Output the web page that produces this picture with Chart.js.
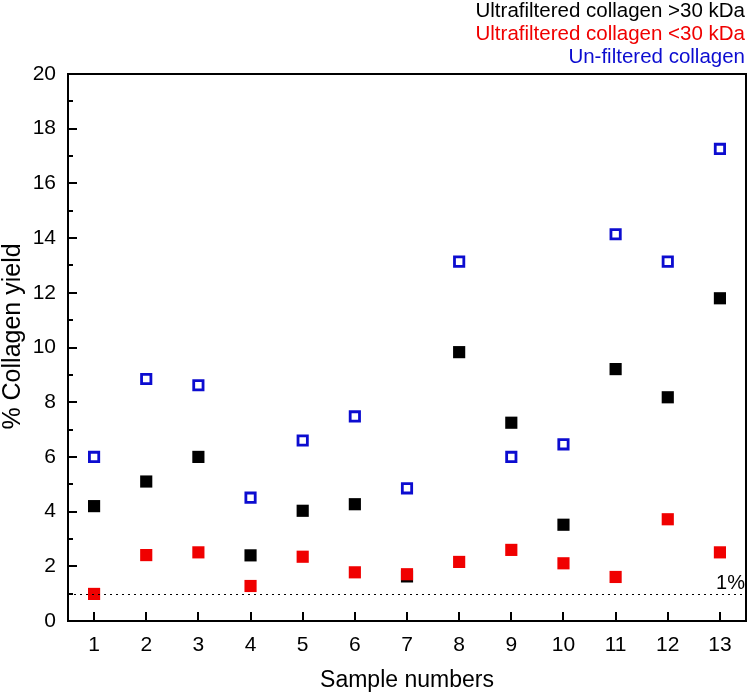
<!DOCTYPE html>
<html>
<head>
<meta charset="utf-8">
<script src="https://cdn.jsdelivr.net/npm/chart.js@4"></script>
<style>
  html, body { margin: 0; padding: 0; background: #fff; }
  #wrap { width: 750px; height: 696px; }
</style>
</head>
<body>
<div id="wrap"><canvas id="chart" width="750" height="696"></canvas></div>
<script>
// Sample numbers on the x axis
const samples = [1, 2, 3, 4, 5, 6, 7, 8, 9, 10, 11, 12, 13];

// % collagen yield per sample
const above30kDa = [4.2, 5.1, 6.0, 2.4, 4.03, 4.27, 1.63, 9.83, 7.25, 3.52, 9.21, 8.18, 11.8];
const below30kDa = [0.99, 2.41, 2.51, 1.28, 2.35, 1.78, 1.71, 2.16, 2.6, 2.11, 1.61, 3.72, 2.51];
const unfiltered = [6.0, 8.85, 8.62, 4.51, 6.6, 7.48, 4.85, 13.14, 6.0, 6.46, 14.14, 13.14, 17.26];

const seriesLabels = ['Ultrafiltered collagen >30 kDa', 'Ultrafiltered collagen <30 kDa', 'Un-filtered collagen'];
const yTicks = [0, 2, 4, 6, 8, 10, 12, 14, 16, 18, 20];
const yTitle = '% Collagen yield';
const thresholdValue = 1;
const thresholdLabel = '1%';

const FONT = '"Liberation Sans", Arial, sans-serif';
const BLUE = '#0c0cd0';
const RED = '#f00000';

function toPoints(values) {
  return samples.map((s, i) => ({ x: s, y: values[i] }));
}

/**
 * Inward ticks, frame, 1% reference line, y title and the coloured text legend
 */
const decorPlugin = {
  id: 'decor',
  afterDatasetsDraw(chart) {
    const { ctx, chartArea: area, scales: { x, y } } = chart;
    ctx.save();
    ctx.strokeStyle = '#000';
    ctx.lineWidth = 2;

    // frame top + right
    ctx.beginPath();
    ctx.moveTo(area.left, area.top);
    ctx.lineTo(area.right, area.top);
    ctx.lineTo(area.right, area.bottom);
    ctx.stroke();

    // x ticks (inward)
    ctx.beginPath();
    x.ticks.forEach(t => {
      const px = Math.round(x.getPixelForValue(t.value));
      ctx.moveTo(px, area.bottom);
      ctx.lineTo(px, area.bottom - 9);
    });
    ctx.stroke();

    // y ticks, major + minor (inward)
    ctx.beginPath();
    for (let v = y.min; v <= y.max; v++) {
      const py = Math.round(y.getPixelForValue(v));
      const len = v % 2 === 0 ? 9 : 5;
      ctx.moveTo(area.left, py);
      ctx.lineTo(area.left + len, py);
    }
    ctx.stroke();

    // dotted threshold line
    const ty = Math.round(y.getPixelForValue(thresholdValue)) + 0.5;
    ctx.lineWidth = 1.2;
    ctx.setLineDash([2, 4]);
    ctx.beginPath();
    ctx.moveTo(area.left, ty);
    ctx.lineTo(area.right, ty);
    ctx.stroke();
    ctx.setLineDash([]);

    ctx.fillStyle = '#000';
    ctx.font = '20px ' + FONT;
    ctx.textAlign = 'right';
    ctx.textBaseline = 'alphabetic';
    ctx.fillText(thresholdLabel, area.right - 1, ty - 6);

    // y axis title, sits a bit above the plot centre like the original
    ctx.save();
    ctx.translate(20, (area.top + area.bottom) / 2 - 11);
    ctx.rotate(-Math.PI / 2);
    ctx.textAlign = 'center';
    ctx.font = '25px ' + FONT;
    ctx.fillText(yTitle, 0, 0);
    ctx.restore();

    // legend text
    ctx.font = '20.5px ' + FONT;
    const legendColors = ['#000', RED, BLUE];
    seriesLabels.forEach((lab, i) => {
      ctx.fillStyle = legendColors[i];
      ctx.fillText(lab, 745, 17 + i * 23);
    });
    ctx.restore();
  }
};

new Chart(document.getElementById('chart'), {
  type: 'scatter',
  data: {
    datasets: [{
      label: seriesLabels[0],
      data: toPoints(above30kDa),
      pointStyle: 'rect',
      pointRadius: 8.6,
      pointHoverRadius: 8.6,
      backgroundColor: '#000',
      borderWidth: 0,
      order: 1
    }, {
      label: seriesLabels[1],
      data: toPoints(below30kDa),
      pointStyle: 'rect',
      pointRadius: 8.6,
      pointHoverRadius: 8.6,
      backgroundColor: RED,
      borderWidth: 0,
      order: 0
    }, {
      label: seriesLabels[2],
      data: toPoints(unfiltered),
      pointStyle: 'rect',
      pointRadius: 6.6,
      pointHoverRadius: 6.6,
      backgroundColor: '#fff',
      borderColor: BLUE,
      borderWidth: 2.8,
      order: 2
    }]
  },
  options: {
    responsive: false,
    animation: false,
    layout: { autoPadding: false, padding: { top: 74, right: 4, left: 0, bottom: 0 } },
    plugins: {
      legend: { display: false },
      tooltip: { enabled: false }
    },
    scales: {
      x: {
        type: 'linear',
        min: 0.5,
        max: 13.5,
        afterBuildTicks: axis => { axis.ticks = samples.map(v => ({ value: v })); },
        grid: { display: false, drawTicks: false },
        border: { display: true, color: '#000', width: 2 },
        ticks: { color: '#000', font: { family: FONT, size: 21 }, padding: 12, maxRotation: 0 },
        title: { display: true, text: 'Sample numbers', color: '#000', font: { family: FONT, size: 23 }, padding: { top: 0, bottom: 2 } },
        afterFit: axis => { axis.height = 75; axis.paddingLeft = 0; axis.paddingRight = 0; }
      },
      y: {
        min: 0,
        max: 20,
        afterBuildTicks: axis => { axis.ticks = yTicks.map(v => ({ value: v })); },
        grid: { display: false, drawTicks: false },
        border: { display: true, color: '#000', width: 2 },
        ticks: { color: '#000', font: { family: FONT, size: 21 }, padding: 12 },
        title: { display: false },
        afterFit: axis => { axis.width = 68; axis.paddingTop = 0; axis.paddingBottom = 0; }
      }
    }
  },
  plugins: [decorPlugin]
});
</script>
</body>
</html>
